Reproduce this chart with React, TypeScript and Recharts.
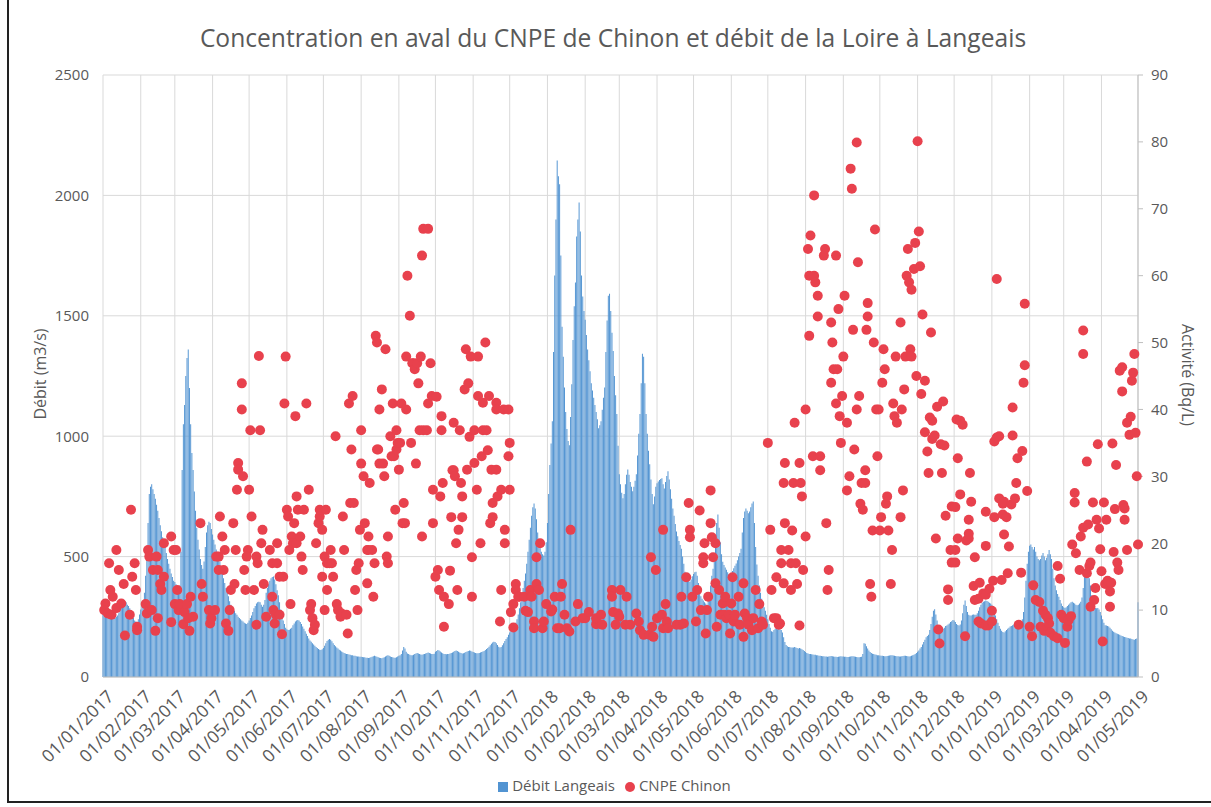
import { ComposedChart, Bar, Scatter, XAxis, YAxis, CartesianGrid, Legend } from "recharts";

const FONT = "'Open Sans', sans-serif";
const TEXT = "#595959";
const DAY_MS = 86400000;
const START = Date.UTC(2017, 0, 1);

// x axis tick labels (first day of each month)
const monthLabels = [
  "01/01/2017", "01/02/2017", "01/03/2017", "01/04/2017", "01/05/2017", "01/06/2017",
  "01/07/2017", "01/08/2017", "01/09/2017", "01/10/2017", "01/11/2017", "01/12/2017",
  "01/01/2018", "01/02/2018", "01/03/2018", "01/04/2018", "01/05/2018", "01/06/2018",
  "01/07/2018", "01/08/2018", "01/09/2018", "01/10/2018", "01/11/2018", "01/12/2018",
  "01/01/2019", "01/02/2019", "01/03/2019", "01/04/2019", "01/05/2019",
];

// daily flow of the Loire at Langeais (m3/s), one line per month
const debit2017 = [
  290, 280, 275, 270, 265, 260, 255, 250, 250, 245, 245, 250, 255, 265, 290, 305, 315, 320, 315, 310, 300, 295, 285, 270, 255, 245, 235, 230, 225, 240, 260,
  280, 300, 320, 350, 420, 520, 640, 760, 790, 800, 780, 760, 740, 715, 690, 660, 630, 605, 580, 560, 540, 515, 490, 470, 450, 430, 415, 400,
  395, 385, 375, 370, 380, 520, 860, 1050, 1130, 1250, 1325, 1360, 1200, 1050, 930, 860, 770, 690, 620, 570, 530, 490, 465, 450, 480, 540, 600, 630, 645, 640, 615,
  592, 570, 550, 530, 510, 495, 480, 455, 430, 410, 390, 370, 355, 335, 315, 300, 290, 283, 275, 265, 258, 250, 245, 240, 235, 230, 225, 222, 220, 225,
  235, 245, 255, 270, 285, 295, 305, 310, 312, 310, 300, 292, 300, 320, 350, 370, 385, 400, 410, 415, 417, 405, 385, 360, 340, 310, 280, 255, 235, 220, 205,
  198, 195, 196, 200, 205, 215, 222, 230, 235, 237, 235, 228, 220, 210, 200, 190, 180, 170, 160, 152, 146, 140, 135, 130, 125, 120, 116, 113, 112, 115,
  120, 130, 140, 150, 155, 158, 155, 148, 140, 133, 128, 123, 118, 113, 110, 106, 103, 100, 98, 96, 95, 93, 92, 90, 90, 88, 88, 86, 85, 85, 84,
  84, 83, 82, 82, 80, 80, 79, 80, 82, 84, 86, 88, 86, 84, 82, 80, 79, 78, 80, 82, 85, 88, 90, 88, 85, 83, 82, 80, 80, 82, 85,
  88, 90, 95, 110, 125, 118, 105, 98, 95, 92, 90, 90, 92, 95, 98, 100, 98, 95, 93, 92, 94, 96, 98, 100, 102, 100, 98, 96, 95, 97,
  105, 108, 112, 110, 106, 102, 99, 96, 95, 94, 95, 96, 98, 100, 102, 105, 108, 110, 108, 105, 102, 100, 98, 99, 101, 104, 106, 108, 110, 109, 106,
  104, 102, 100, 99, 99, 100, 102, 104, 106, 108, 112, 116, 120, 126, 132, 138, 143, 146, 145, 140, 133, 126, 122, 125, 132, 140, 150, 158, 165, 175,
  185, 195, 205, 215, 220, 225, 240, 260, 285, 310, 340, 370, 400, 430, 470, 520, 570, 620, 670, 705, 720, 700, 655, 600, 560, 535, 520, 510, 505, 520, 560,
];

const debit2018 = [
  640, 760, 880, 970, 1062, 1350, 1667, 1900, 2145, 2080, 2046, 1750, 1455, 1330, 1202, 1100, 1030, 980, 962, 1080, 1216, 1400, 1540, 1638, 1829, 1900, 1971, 1850, 1667, 1580, 1520,
  1484, 1420, 1360, 1315, 1270, 1220, 1190, 1160, 1130, 1100, 1070, 1033, 1045, 1062, 1110, 1160, 1202, 1350, 1480, 1583, 1592, 1520, 1430, 1354, 1250, 1170, 1092, 960,
  842, 800, 765, 742, 760, 800, 840, 862, 840, 810, 790, 771, 790, 815, 842, 920, 1010, 1092, 1220, 1342, 1330, 1220, 1092, 1010, 940, 883, 820, 760, 717, 750, 790,
  805, 812, 818, 822, 825, 800, 783, 810, 835, 854, 820, 780, 740, 700, 670, 635, 604, 585, 565, 548, 533, 500, 470, 437, 420, 410, 402, 396, 405, 418,
  428, 435, 437, 420, 390, 355, 335, 325, 318, 310, 305, 300, 320, 345, 380, 420, 450, 510, 580, 640, 675, 620, 560, 510, 479, 465, 455, 445, 435, 428, 425,
  430, 440, 452, 462, 471, 485, 500, 515, 533, 600, 660, 687, 700, 690, 680, 687, 705, 720, 729, 640, 540, 467, 420, 380, 350, 325, 305, 290, 275, 258,
  240, 220, 205, 190, 188, 195, 200, 200, 198, 200, 198, 195, 185, 165, 145, 133, 128, 125, 125, 123, 122, 123, 125, 122, 120, 118, 120, 118, 115, 112, 108,
  104, 100, 98, 96, 95, 94, 93, 92, 92, 90, 90, 88, 88, 87, 86, 86, 85, 85, 84, 85, 86, 87, 86, 85, 84, 84, 83, 84, 85, 86, 85,
  85, 84, 84, 83, 83, 84, 85, 86, 86, 85, 84, 83, 82, 82, 83, 84, 95, 140, 138, 128, 118, 110, 104, 100, 97, 95, 93, 92, 90, 90,
  89, 88, 88, 87, 86, 86, 87, 88, 89, 90, 90, 89, 88, 87, 86, 86, 85, 85, 86, 87, 88, 88, 87, 86, 85, 86, 88, 90, 92, 95, 100,
  105, 110, 118, 125, 135, 145, 155, 165, 170, 175, 195, 220, 250, 275, 281, 260, 235, 215, 205, 200, 198, 200, 205, 212, 214, 218, 222, 228, 232, 237,
  235, 228, 220, 216, 214, 218, 235, 265, 300, 318, 295, 270, 258, 255, 255, 258, 260, 258, 258, 265, 275, 290, 300, 308, 312, 315, 318, 316, 312, 308, 305,
];

const debit2019 = [
  300, 285, 270, 255, 240, 225, 212, 200, 192, 187, 185, 190, 195, 200, 205, 210, 212, 215, 218, 220, 222, 225, 226, 228, 229, 240, 270, 330, 400, 470, 520,
  545, 550, 540, 530, 540, 520, 500, 490, 485, 490, 505, 515, 500, 485, 495, 510, 527, 510, 490, 450, 410, 380, 360, 345, 333, 320, 305, 295,
  290, 287, 290, 295, 300, 305, 310, 312, 308, 305, 300, 298, 300, 305, 312, 330, 370, 420, 450, 454, 440, 410, 380, 340, 310, 295, 287, 285, 287, 280, 270,
  255, 240, 225, 215, 214, 212, 210, 205, 198, 192, 188, 185, 182, 180, 178, 175, 172, 170, 168, 166, 165, 163, 162, 160, 160, 158, 156, 155, 158, 160,
  310,
];

// CNPE Chinon activity (Bq/L): [days since 01/01/2017, value]
const cnpe2017 = [
  [2, 11], [1, 10], [4, 9.5], [6, 13], [5, 17], [8, 12], [7, 9.3], [11, 19], [11, 10.3], [13, 16], [15, 11], [17, 13.9], [18, 6.2], [22, 9.3], [23, 25], [24, 15], [26, 17], [27, 13], [28, 7.5], [28, 7],
  [35, 10.9], [36, 9.5], [37, 19], [38, 18], [40, 10], [41, 16], [43, 6.9], [44, 18], [45, 8.8], [45, 16], [47, 13.9], [48, 13], [50, 15], [50, 20], [56, 8.2], [56, 21], [58, 19],
  [60, 19], [61, 13], [59, 10.9], [62, 10], [63, 10.9], [66, 7.9], [67, 9.7], [69, 10.9], [70, 8.8], [71, 6.9], [72, 12], [74, 9], [80, 23], [81, 13.9], [82, 12], [87, 10], [88, 8], [89, 8.8],
  [92, 10], [93, 18], [95, 18], [95, 16], [96, 24], [98, 21], [99, 16], [100, 19], [101, 8], [103, 6.9], [104, 10], [105, 13], [107, 23], [108, 13.9], [109, 19], [110, 28], [111, 32], [111, 31],
  [114, 40], [114, 43.9], [115, 30], [116, 16], [117, 13], [119, 19], [118, 18], [120, 28], [121, 36.9], [122, 24], [124, 13], [126, 18], [126, 7.8], [127, 17], [128, 48], [129, 36.9],
  [131, 22], [132, 13.9], [130, 20], [134, 9],
  [137, 19], [139, 17], [143, 17], [143, 20], [139, 12], [140, 10], [141, 8], [142, 9.3], [145, 9.3], [147, 6.4], [145, 15], [148, 15], [149, 40.9], [150, 47.9],
  [151, 25], [152, 24], [153, 19], [154, 10.9], [155, 21], [156, 20], [157, 23], [158, 39], [159, 27], [159, 20], [160, 25], [162, 21], [163, 18], [164, 16], [165, 25], [167, 40.9], [169, 28],
  [171, 10.9], [170, 10], [172, 8.8], [173, 7], [174, 7.8], [175, 20], [177, 23], [178, 24], [178, 25], [180, 22], [180, 15], [182, 10], [182, 18], [183, 25], [184, 17], [184, 13],
  [186, 17], [187, 19], [188, 17], [189, 15], [191, 36], [192, 10.9], [193, 10], [195, 9], [196, 9.5], [197, 24], [198, 19], [200, 9.3], [201, 6.5], [202, 40.9], [203, 26], [204, 34],
  [205, 42], [206, 26], [207, 13], [208, 16], [209, 10], [210, 17], [211, 22], [212, 31.9], [212, 36.9], [214, 30], [215, 23], [217, 19], [217, 14], [218, 21], [218, 19], [219, 29],
  [221, 19], [222, 12], [223, 17], [224, 51], [225, 50], [225, 34], [226, 34], [227, 40], [229, 43], [227, 31.9], [230, 31.9], [231, 30], [232, 49], [233, 18], [234, 21], [234, 17],
  [236, 36], [237, 33], [238, 40.9], [239, 33], [240, 25], [241, 36.9], [241, 34], [242, 35], [243, 31], [244, 35], [245, 40.9], [246, 23], [247, 26], [248, 23], [249, 47.9], [249, 40],
  [250, 60], [252, 54], [253, 35], [254, 46.9], [255, 46.9], [256, 46], [257, 31.9], [258, 46.9], [259, 43.9], [260, 36.9], [261, 47.9], [262, 21], [262, 63], [263, 67], [263, 36.9],
  [266, 36.9], [267, 67], [267, 40.9], [269, 46.9], [270, 42], [271, 23], [271, 28], [273, 15], [274, 41.9], [275, 16], [276, 13], [277, 27], [278, 39], [278, 36.9], [279, 29], [280, 12], [280, 7.5],
  [284, 10.9], [285, 15.9], [286, 23.9], [287, 30.9], [288, 38], [288, 30.9], [289, 30], [290, 20], [291, 13], [292, 22], [293, 36.9], [294, 29], [295, 27], [295, 23.9], [297, 43], [298, 49],
  [299, 31], [300, 43.9], [301, 35.9], [302, 47.9], [303, 17.9], [303, 12], [305, 36.9], [305, 32], [307, 28], [308, 47.9], [308, 42], [310, 20], [311, 33], [312, 41], [312, 36.9],
  [314, 50], [315, 36.9], [316, 33.9], [317, 42], [318, 23], [319, 31], [320, 26], [320, 23.9], [323, 41], [323, 40], [323, 31], [324, 27], [326, 8.3], [327, 28], [327, 13],
  [329, 40], [330, 22], [330, 20], [333, 40], [333, 33], [334, 35], [334, 28], [335, 9.7], [337, 7.4], [337, 10.9], [339, 13.9], [339, 13], [341, 12], [342, 12], [346, 12], [347, 9.9],
  [349, 9.7], [351, 13], [352, 12], [354, 8.3], [354, 7.3], [356, 13.9], [356, 17.9], [358, 13], [359, 20], [361, 7.3], [362, 8.3], [364, 10.9],
];

const cnpe2018 = [
  [368, 9.8], [369, 10.1], [371, 12], [373, 7.3], [375, 7.3], [376, 12], [377, 13.9], [379, 9.3], [381, 7.3], [383, 6.8], [384, 22], [388, 8.3], [390, 10.9], [394, 8.8], [396, 8.8],
  [399, 9.7], [405, 7.9], [405, 8.8], [409, 9.3], [410, 7.8], [418, 13], [418, 12], [419, 9.7], [421, 7.8], [423, 9.5], [424, 9], [425, 13], [429, 7.8], [430, 12], [433, 7.8],
  [438, 9.5], [440, 8.3], [441, 7], [444, 6.3], [449, 6.3], [450, 17.9], [451, 7.5], [452, 6], [454, 16], [455, 8.8], [459, 9.3], [460, 22], [460, 7.3], [462, 10.9], [463, 8.3], [464, 7.3],
  [471, 7.8], [474, 7.8], [475, 12], [477, 8], [479, 14.9], [481, 26], [482, 22], [482, 20.9], [484, 12], [487, 8.3], [488, 13], [490, 24.9], [491, 10], [493, 17.9], [493, 17], [494, 20],
  [495, 6.5], [496, 10], [497, 12], [499, 23], [499, 27.9], [500, 20.9], [501, 17.9], [503, 20], [503, 14], [504, 7.5], [506, 13], [507, 9.3], [509, 11], [510, 9.3], [511, 12], [512, 8.8],
  [514, 9.3], [515, 6.5], [516, 11], [517, 14.9], [518, 8.3], [519, 9.3], [522, 12], [523, 7.8], [526, 14], [526, 6], [527, 9.5], [529, 8.8], [530, 7.8], [533, 7], [534, 8.8], [536, 13],
  [538, 7.3], [539, 10.9], [541, 8.3], [542, 7.8], [546, 35], [548, 22], [549, 13], [551, 8.8], [553, 8.8], [553, 14.9], [555, 7.8], [556, 8], [557, 19], [557, 17], [559, 14], [559, 29],
  [560, 32], [560, 23], [563, 19], [565, 17], [565, 13], [566, 21.9], [567, 29], [568, 38], [569, 17], [570, 13.9], [572, 7.7], [572, 32], [573, 29], [574, 27], [575, 16], [577, 21], [577, 40],
  [579, 64], [580, 60], [580, 51], [581, 66], [583, 33], [584, 60], [585, 59], [584, 72], [587, 57], [587, 53.9], [589, 30.9], [589, 33], [592, 63], [593, 64], [594, 23], [595, 13], [596, 16],
  [598, 44], [598, 53], [599, 50], [600, 46], [602, 63], [602, 40.9], [603, 46], [604, 55], [605, 39], [606, 35], [607, 42], [608, 47.9], [609, 57], [611, 38], [611, 27.9], [613, 30],
  [614, 76], [615, 73], [616, 51.9], [617, 34], [619, 40], [619, 79.9], [620, 62], [621, 42], [622, 25.9], [623, 29], [624, 25], [626, 29], [626, 30.9], [627, 51.9], [628, 55.9], [628, 53.9],
  [630, 13.9], [631, 12], [632, 21.9], [633, 50], [634, 66.9], [635, 40], [636, 33], [637, 40], [638, 21.9], [639, 23.9], [640, 44], [642, 46], [641, 49], [643, 25.9], [644, 27], [645, 21.9],
  [647, 13.9], [648, 19], [649, 40.9], [650, 39], [651, 47.9], [652, 38], [655, 53], [655, 23.9], [656, 40], [658, 43], [657, 27.9], [659, 47.9], [660, 60], [661, 64], [662, 59], [663, 49],
  [664, 47.9], [664, 57.9], [666, 61], [667, 64.9], [668, 45], [669, 80.1], [670, 66.6], [671, 61.4], [672, 42.3], [673, 54.2], [675, 44.3], [675, 36.6], [677, 33.7], [678, 30.5], [679, 38.8],
  [680, 51.5], [681, 38.3], [681, 35.6], [683, 36.1], [685, 40.4], [684, 20.7], [686, 7.1], [687, 5], [688, 34.8], [689, 30.5], [690, 41.2], [691, 34.6], [692, 24.1], [694, 13.1], [694, 11.5],
  [696, 19], [697, 17.1], [697, 25.5], [701, 38.5], [704, 38.3], [706, 37.7], [702, 32.7], [700, 25.4], [700, 19], [700, 17.1], [704, 27.3], [702, 20.7], [711, 20.7], [709, 20.4], [712, 30.5],
  [713, 26.2], [711, 23.5], [711, 21.4], [716, 17.9], [708, 6.1], [715, 13.6], [716, 11.5], [719, 11.7], [720, 14.1], [723, 12.5], [725, 12.3], [728, 13.2], [719, 8.3], [721, 8], [725, 7.7],
  [727, 7.7], [725, 24.7], [725, 19.6],
];

const cnpe2019 = [
  [730, 9.9], [730, 8.3], [731, 14.4], [732, 23.9], [732, 35.2], [734, 59.5], [734, 35.8], [736, 36], [736, 26.7], [738, 14.5], [739, 25.9], [739, 24.3], [740, 26.2], [740, 21.3], [742, 23.9],
  [743, 15.5], [744, 19.5], [746, 25.8], [747, 36.1], [747, 40.3], [749, 26.7], [750, 29], [751, 32.7], [752, 7.8], [754, 15.6], [755, 33.8], [756, 44], [757, 46.6], [757, 55.8], [759, 27.8],
  [761, 7.5], [763, 6.1], [764, 13.7], [766, 11.5], [769, 11.2], [770, 7.5], [772, 9.9], [773, 6.9], [774, 9.3], [776, 8.8], [777, 8], [778, 6.6], [781, 6.1], [784, 5.8], [784, 16.6],
  [786, 14.7], [787, 9.3], [789, 8.8], [790, 5.1], [792, 7.5], [793, 8.5], [795, 9.1], [796, 19.8], [798, 27.5], [798, 26.1], [799, 18.5], [802, 16], [803, 21], [805, 22.3], [805, 51.8],
  [805, 48.3], [808, 15.5], [808, 32.2], [809, 22.8], [810, 16.6], [811, 17.1], [811, 10.5], [813, 26.1], [814, 11.5], [815, 13.3], [816, 23.5], [817, 34.8], [818, 22.2], [819, 19.1],
  [820, 15.8], [821, 5.3], [822, 26.1], [823, 13.9], [824, 23.5], [825, 14.4], [827, 10.5], [827, 12.8], [828, 14.1], [829, 34.9], [830, 18.7], [831, 25.1], [832, 31.7], [833, 17.1],
  [834, 16], [835, 45.8], [837, 46.3], [837, 42.7], [838, 25.7], [839, 25.2], [839, 23.5], [841, 19], [841, 38], [843, 36.2], [844, 38.9], [845, 44.3], [846, 45.5], [847, 48.3],
  [848, 36.5], [849, 30], [850, 19.8],
];

const dayOf = (label: string) => {
  const [d, m, y] = label.split("/").map(Number);
  return (Date.UTC(y, m - 1, d) - START) / DAY_MS;
};

const monthTicks = monthLabels.map(dayOf);
const labelByDay: Record<number, string> = {};
monthLabels.forEach((l) => (labelByDay[dayOf(l)] = l));

const debitRows = [...debit2017, ...debit2018, ...debit2019].map((v, i) => ({ day: i, debit: v }));
const cnpeRows = [...cnpe2017, ...cnpe2018, ...cnpe2019].map(([day, v]) => ({ day, cnpe: v }));

const legendOrder = ["Débit Langeais", "CNPE Chinon"];

const Dot = (props: any) => <circle cx={props.cx} cy={props.cy} r={5} fill="#E8414D" />;

export default function App() {
  return (
    <div style={{ position: "absolute", left: 0, top: 0, width: 1211, height: 807, background: "#fff", fontFamily: FONT }}>
      <div style={{ position: "absolute", left: 7, top: -4, width: 1210, height: 807, borderLeft: "2px solid #222", borderBottom: "2px solid #222", boxSizing: "border-box" }} />
      <div style={{ position: "absolute", left: 0, width: 1226, top: 22, textAlign: "center", fontSize: 24.6, color: TEXT, lineHeight: "32px", whiteSpace: "nowrap" }}>
        Concentration en aval du CNPE de Chinon et débit de la Loire à Langeais
      </div>
      <div style={{ position: "absolute", left: 40, top: 374, transform: "translate(-50%, -50%) rotate(-90deg)", whiteSpace: "nowrap", fontSize: 16, color: TEXT }}>
        Débit (m3/s)
      </div>
      <div style={{ position: "absolute", left: 1188, top: 375, transform: "translate(-50%, -50%) rotate(90deg)", whiteSpace: "nowrap", fontSize: 16, color: TEXT }}>
        Activité (Bq/L)
      </div>
      <ComposedChart
        width={1211}
        height={807}
        data={debitRows}
        margin={{ top: 75, right: 20, bottom: 12, left: 20 }}
        style={{ position: "absolute", left: 0, top: 0 }}
      >
        <CartesianGrid stroke="#D9D9D9" yAxisId="left" />
        <XAxis
          dataKey="day"
          type="number"
          domain={[0, 850]}
          ticks={monthTicks}
          interval={0}
          tickFormatter={(d: number) => labelByDay[d] ?? ""}
          tick={{ fill: TEXT, fontSize: 17.5, angle: -45, textAnchor: "end", dx: 3, dy: 2 }}
          tickLine={false}
          axisLine={{ stroke: "#BFBFBF" }}
          height={98}
          tickMargin={4}
        />
        <YAxis
          yAxisId="left"
          domain={[0, 2500]}
          ticks={[0, 500, 1000, 1500, 2000, 2500]}
          width={83}
          tick={{ fill: TEXT, fontSize: 15 }}
          tickLine={false}
          axisLine={false}
          tickMargin={8}
        />
        <YAxis
          yAxisId="right"
          orientation="right"
          domain={[0, 90]}
          ticks={[0, 10, 20, 30, 40, 50, 60, 70, 80, 90]}
          width={53}
          tick={{ fill: TEXT, fontSize: 15 }}
          tickLine={{ stroke: "#BFBFBF" }}
          tickSize={5}
          axisLine={{ stroke: "#BFBFBF" }}
          tickMargin={8}
        />
        <Bar
          yAxisId="left"
          dataKey="debit"
          name="Débit Langeais"
          fill="#5294D2"
          legendType="square"
          isAnimationActive={false}
        />
        <Scatter
          yAxisId="right"
          data={cnpeRows}
          dataKey="cnpe"
          name="CNPE Chinon"
          fill="#E8414D"
          legendType="circle"
          shape={Dot}
          isAnimationActive={false}
        />
        <Legend
          verticalAlign="bottom"
          align="center"
          iconSize={10}
          itemSorter={(item: any) => legendOrder.indexOf(item.value)}
          wrapperStyle={{ fontSize: 15, paddingLeft: 14 }}
          formatter={(v: string) => <span style={{ color: TEXT }}>{v}</span>}
        />
      </ComposedChart>
    </div>
  );
}
